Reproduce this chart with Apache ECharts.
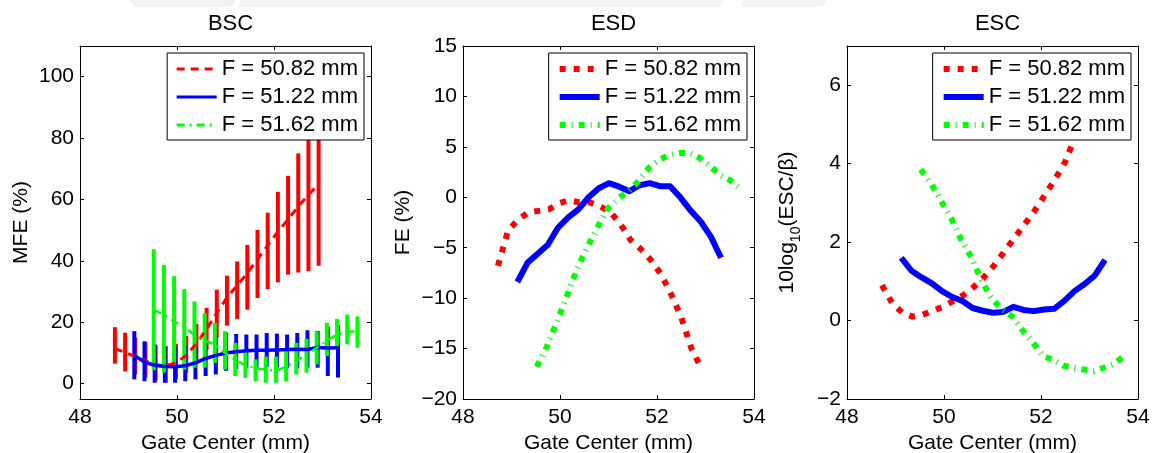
<!DOCTYPE html>
<html>
<head>
<meta charset="utf-8">
<script src="https://cdn.jsdelivr.net/npm/echarts@6/dist/echarts.min.js"></script>
<style>
  html, body { margin: 0; padding: 0; background: #fff; }
  #chart { width: 1157px; height: 453px; }
</style>
</head>
<body>
<div id="chart"></div>
<script>
  // focal settings (mm) -- gate centers run F-2.1 .. F+2.1 in 0.21 steps
  const focal = ['50.82', '51.22', '51.62'];
  const colors = ['#ff0000', '#0000ff', '#00ff00'];

  // BSC: mean fractional error (%) with error bars
  const bscRed = [11.4, 10.2, 8.8, 7.4, 6.2, 5.8, 6.8, 9.2, 13, 17.8, 23, 28, 32, 36, 40.5, 45, 49.5, 53.5, 57.7, 61.5, 65];
  const bscRedHi = [18.4, 16.6, 15, 13.5, 12.5, 12.2, 13, 15.5, 19.5, 24.7, 30.6, 35.2, 39.8, 45.2, 50.1, 55.7, 62.5, 67.7, 75, 88, 95];
  const bscRedLo = [6.5, 4, 3, 2, 1, 0.3, 1.5, 3.5, 6.5, 11, 15, 18.9, 21.1, 24.1, 27.9, 30.8, 33, 35.5, 36.2, 36.6, 38.4];
  const bscBlue = [9.2, 7.0, 6.0, 5.6, 5.5, 5.8, 6.8, 8.2, 9.2, 10.0, 10.4, 10.7, 10.9, 10.9, 11.0, 11.1, 11.2, 11.1, 11.8, 11.6, 11.7];
  const bscBlueHi = [17.1, 13.8, 12.8, 12.2, 12.0, 12.2, 12.0, 13.3, 15.5, 16.6, 16.2, 16.0, 16.0, 16.5, 16.3, 16.0, 16.5, 17.4, 17.2, 18.5, 19.0];
  const bscBlueLo = [1.4, 0.8, 0.3, 0.3, 0.3, 0.8, 1.4, 2.5, 3.0, 4.2, 4.8, 5.0, 5.2, 5.5, 5.3, 5.2, 5.0, 5.2, 5.2, 2.5, 2.0];
  const bscGreen = [24, 22.5, 20.3, 18.5, 15.8, 14, 12.8, 10, 7.8, 6.0, 5.0, 4.6, 4.2, 5.5, 7.5, 9.5, 11.7, 14.0, 16.0, 17.0, 17.0];
  const bscGreenHi = [43.8, 38.7, 35, 30.8, 26.8, 23, 19.8, 17.1, 13.3, 10.6, 7.9, 8.8, 8.8, 10.6, 13.3, 14.6, 17.1, 19.8, 21.1, 22.5, 21.9];
  const bscGreenLo = [4.4, 3.6, 5.2, 4.6, 5.2, 5.2, 6.8, 4.6, 2.5, 1.9, 0.8, 0.3, 0.3, 0.8, 3, 3.6, 6.3, 9, 12.2, 12.8, 11.7];

  // ESD: fractional error (%)
  const esdRed = [-6.8, -3.3, -2.2, -1.5, -1.35, -1.2, -0.6, -0.3, -0.5, -0.5, -0.9, -1.4, -2.6, -4.2, -5.1, -6.2, -7.6, -9.6, -11.9, -15.0, -17.0];
  const esdBlue = [-8.4, -6.5, -5.6, -4.7, -3.0, -2.0, -1.2, 0.0, 0.9, 1.4, 1.05, 0.6, 1.2, 1.4, 1.1, 1.1, 0.0, -1.3, -2.4, -3.9, -6.0];
  const esdGreen = [-16.8, -14.8, -12.3, -9.7, -7.0, -4.9, -2.9, -1.1, -0.1, 0.6, 1.6, 2.9, 3.7, 4.2, 4.4, 4.4, 3.9, 3.1, 2.2, 1.7, 0.8];

  // ESC: 10log10(ESC/beta)
  const escRed = [0.9, 0.45, 0.2, 0.1, 0.15, 0.25, 0.35, 0.5, 0.65, 0.85, 1.1, 1.4, 1.75, 2.1, 2.45, 2.8, 3.2, 3.6, 4.05, 4.7, 5.5];
  const escBlue = [1.6, 1.27, 1.1, 0.95, 0.75, 0.6, 0.5, 0.32, 0.25, 0.2, 0.22, 0.35, 0.27, 0.24, 0.28, 0.3, 0.5, 0.75, 0.93, 1.15, 1.55];
  const escGreen = [3.85, 3.5, 3.05, 2.6, 2.05, 1.6, 1.0, 0.55, 0.28, 0.1, -0.25, -0.55, -0.9, -1.0, -1.15, -1.2, -1.25, -1.28, -1.2, -1.1, -0.9];

  const xTicks = [48, 50, 52, 54];
  const bscTicks = [0, 20, 40, 60, 80, 100];
  const esdTicks = [-20, -15, -10, -5, 0, 5, 10, 15];
  const escTicks = [-2, 0, 2, 4, 6];

  const FONT = 'Liberation Sans';
  const minus = v => String(v).replace('-', '\u2212');

  // gate centers for one focal value
  function gates(f) {
    const out = [];
    for (let i = 0; i < 21; i++) out.push(+(parseFloat(f) - 2.1 + 0.21 * i).toFixed(2));
    return out;
  }
  const pairs = (xs, ys) => xs.map((x, i) => [x, ys[i]]);

  const grids = [
    {left: 80, top: 46, width: 291, bottom: 54, outerBoundsMode: 'none'},
    {left: 463, top: 46, width: 291, bottom: 54, outerBoundsMode: 'none'},
    {left: 847, top: 46, width: 291, bottom: 54, outerBoundsMode: 'none'}
  ];
  const yRanges = [[-5, 110, bscTicks], [-20, 15, esdTicks], [-2, 7, escTicks]];
  const yNames = ['MFE (%)', 'FE (%)', '10log{sub|10}(ESC/\u03b2)'];
  const yGaps = [48, 49, 44];
  const titles = ['BSC', 'ESD', 'ESC'];
  const legendWidths = [3, 6, 6];

  const xAxis = [], yAxis = [], title = [], legend = [], series = [];

  grids.forEach((g, k) => {
    const tickStyle = {show: true, inside: true, length: 4, lineStyle: {color: '#000'}};
    const lineStyle = {show: true, onZero: false, lineStyle: {color: '#000', width: 1}};
    xAxis.push({
      gridIndex: k, type: 'value', min: 48, max: 54, position: 'bottom',
      axisLine: lineStyle, splitLine: {show: false},
      axisTick: Object.assign({customValues: xTicks}, tickStyle),
      axisLabel: {customValues: xTicks, color: '#000', fontFamily: FONT, fontSize: 21, margin: 8},
      name: 'Gate Center (mm)', nameLocation: 'middle', nameGap: 31,
      nameTextStyle: {color: '#000', fontFamily: FONT, fontSize: 21}
    });
    xAxis.push({
      gridIndex: k, type: 'value', min: 48, max: 54, position: 'top',
      axisLine: lineStyle, splitLine: {show: false},
      axisTick: Object.assign({customValues: xTicks}, tickStyle),
      axisLabel: {show: false}
    });
    const [lo, hi, ticks] = yRanges[k];
    yAxis.push({
      gridIndex: k, type: 'value', min: lo, max: hi, position: 'left',
      axisLine: lineStyle, splitLine: {show: false},
      axisTick: Object.assign({customValues: ticks}, tickStyle),
      axisLabel: {customValues: ticks, formatter: minus, color: '#000', fontFamily: FONT, fontSize: 21, margin: 6},
      name: yNames[k], nameLocation: 'middle', nameGap: yGaps[k],
      nameTextStyle: {
        color: '#000', fontFamily: FONT, fontSize: 21,
        rich: {sub: {fontFamily: FONT, fontSize: 14, color: '#000', padding: [18, 0, 0, 0]}}
      }
    });
    yAxis.push({
      gridIndex: k, type: 'value', min: lo, max: hi, position: 'right',
      axisLine: lineStyle, splitLine: {show: false},
      axisTick: Object.assign({customValues: ticks}, tickStyle),
      axisLabel: {show: false}
    });
    title.push({
      text: titles[k], left: g.left + g.width / 2, top: 8, textAlign: 'center',
      textStyle: {color: '#000', fontFamily: FONT, fontSize: 22, fontWeight: 'normal'}
    });
    legend.push({
      data: focal.map(f => titles[k] + '|' + f),
      formatter: n => 'F = ' + n.split('|')[1] + ' mm',
      orient: 'vertical', right: 1157 - (g.left + g.width) + 7, top: 53,
      itemWidth: 40, itemHeight: 14, itemGap: 6,
      padding: [5, 6, 4, 8],
      backgroundColor: '#fff', borderColor: '#000', borderWidth: 1, borderRadius: 0,
      selectedMode: false,
      itemStyle: {opacity: 0},
      lineStyle: {width: legendWidths[k]},
      textStyle: {color: '#000', fontFamily: FONT, fontSize: 22}
    });
  });

  // error bars through the library's own coordinate system
  function errorBars(k, xs, los, his, color) {
    return {
      type: 'custom', name: 'err', xAxisIndex: 2 * k, yAxisIndex: 2 * k, clip: true, silent: true,
      data: xs.map((x, i) => [x, los[i], his[i]]),
      encode: {x: 0, y: [1, 2]},
      renderItem: (params, api) => {
        const a = api.coord([api.value(0), api.value(1)]);
        const b = api.coord([api.value(0), api.value(2)]);
        return {type: 'line', shape: {x1: a[0], y1: a[1], x2: b[0], y2: b[1]},
          style: {stroke: color, lineWidth: 4}};
      }
    };
  }

  function line(k, f, ys, color, width, type) {
    return {
      type: 'line', name: titles[k] + '|' + f, xAxisIndex: 2 * k, yAxisIndex: 2 * k,
      data: pairs(gates(f), ys), symbol: 'none', smooth: false, silent: true,
      lineStyle: {color: color, width: width, type: type, cap: 'butt', join: 'round'},
      itemStyle: {color: color}
    };
  }

  // BSC panel
  series.push(errorBars(0, gates(focal[0]), bscRedLo, bscRedHi, colors[0]));
  series.push(line(0, focal[0], bscRed, colors[0], 3, [8, 6]));
  series.push(errorBars(0, gates(focal[1]), bscBlueLo, bscBlueHi, colors[1]));
  series.push(line(0, focal[1], bscBlue, colors[1], 3.5, 'solid'));
  series.push(errorBars(0, gates(focal[2]), bscGreenLo, bscGreenHi, colors[2]));
  series.push(line(0, focal[2], bscGreen, colors[2], 2.5, [8, 5, 2, 5]));

  // ESD panel
  series.push(line(1, focal[0], esdRed, colors[0], 6, [6, 8]));
  series.push(line(1, focal[1], esdBlue, colors[1], 6, 'solid'));
  series.push(line(1, focal[2], esdGreen, colors[2], 6, [6, 6, 1, 6]));

  // ESC panel
  series.push(line(2, focal[0], escRed, colors[0], 6, [6, 8]));
  series.push(line(2, focal[1], escBlue, colors[1], 6, 'solid'));
  series.push(line(2, focal[2], escGreen, colors[2], 6, [6, 6, 1, 6]));

  const chart = echarts.init(document.getElementById('chart'), null, {renderer: 'canvas'});
  chart.setOption({
    animation: false,
    backgroundColor: '#fff',
    grid: grids,
    xAxis: xAxis,
    yAxis: yAxis,
    title: title,
    legend: legend,
    series: series,
    graphic: [
      {type: 'polygon', silent: true, z: -1, shape: {points: [[130, 0], [235, 0], [231, 7], [134, 7]]}, style: {fill: '#f3f3f3'}},
      {type: 'polygon', silent: true, z: -1, shape: {points: [[241, 0], [724, 0], [720, 7], [238, 7]]}, style: {fill: '#f3f3f3'}},
      {type: 'polygon', silent: true, z: -1, shape: {points: [[744, 0], [826, 0], [822, 7], [740, 7]]}, style: {fill: '#f3f3f3'}}
    ]
  });
</script>
</body>
</html>
